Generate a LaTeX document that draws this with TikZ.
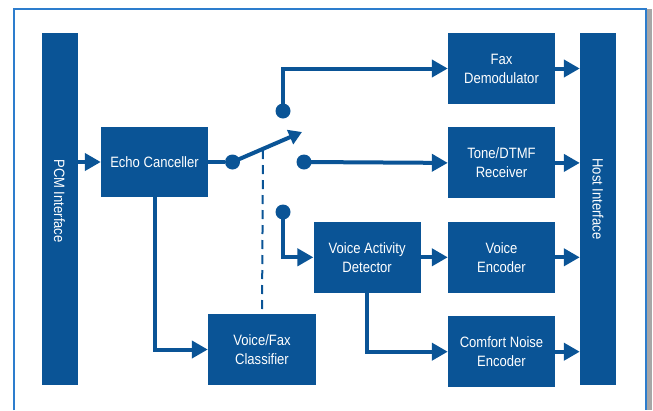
\documentclass[tikz,border=0pt]{standalone}
\usepackage{fontspec}
\setmainfont{Liberation Sans}[FakeStretch=0.87]
\usepackage{tikz}
\usetikzlibrary{arrows.meta, positioning, calc}
\usepackage{xcolor}
\definecolor{boxblue}{RGB}{10,84,150}
\definecolor{frameblue}{RGB}{45,125,205}

\begin{document}
\begin{tikzpicture}[
    x=1pt, y=-1pt,
    block/.style={
        draw=none, fill=boxblue, rectangle, align=center, text=white,
        font=\fontsize{15}{19}\selectfont, minimum width=107pt, minimum height=71pt,
        inner sep=0pt
    },
    bar/.style={
        fill=boxblue, rectangle, text=white, inner sep=0pt,
        minimum width=36pt, minimum height=352pt
    },
    line/.style={draw=boxblue, line width=4pt, -{Triangle[length=16pt, width=17pt]}},
    wire/.style={draw=boxblue, line width=4pt},
    contact/.style={circle, fill=boxblue, minimum size=15pt, inner sep=0pt}
]
    \useasboundingbox (0,0) rectangle (653,410);
    % frame
    \fill[gray!70] (647,9) rectangle (652,410);
    \draw[frameblue, line width=1.5pt] (14,410) -- (14,9) -- (646,9) -- (646,410);

    % side bars
    \node[bar] (PCM) at (59.5,209) {};
    \node[bar] (Host) at (598,209) {};
    \node[rotate=-90, text=white, font=\fontsize{15}{19}\selectfont] (PCMText) at (59.5,201) {PCM Interface};
    \node[rotate=-90, text=white, font=\fontsize{15}{19}\selectfont] (HostText) at (598,199) {Host Interface};

    % blocks
    \node[block, minimum height=70pt] (Echo) at (154.5,162) {Echo Canceller};
    \node[block] (Fax) at (501.5,68.5) {Fax\\Demodulator};
    \node[block, below=23pt of Fax] (Tone) {Tone/DTMF\\Receiver};
    \node[block, below=23pt of Tone] (VEnc) {Voice\\Encoder};
    \node[block, below=23pt of VEnc] (CNG) {Comfort Noise\\Encoder};
    \node[block, left=27pt of VEnc] (VAD) {Voice Activity\\Detector};
    \node[block, minimum width=108pt] (VFC) at (262,349.5) {Voice/Fax\\Classifier};

    % switch
    \node[contact] (Pivot) at (232.5,162) {};
    \node[contact] (Up) at (283,111) {};
    \node[contact] (Mid) at (304,162) {};
    \node[contact] (Low) at (283,212) {};
    \coordinate (Lever) at (302,132);
    \coordinate (Tap) at (263,150);

    \draw[line] (PCM.east |- Echo) -- (Echo);
    \draw[wire] (Echo) -- (Pivot);
    \draw[draw=boxblue, line width=4pt, -{Triangle[length=13pt, width=15pt]}] (Pivot.center) -- (Lever);
    \draw[line] (Up.center) |- (Fax.west);
    \draw[line] (Mid.center) -- (Tone.west);
    \draw[line] (Low.center) |- (VAD.west);
    \draw[boxblue, line width=2pt, dash pattern=on 9pt off 6pt] (Tap) -- (VFC.north);
    \draw[line] (Echo.south) |- (VFC.west);
    \draw[line] (VAD) -- (VEnc);
    \draw[line] (VAD.south) |- (CNG.west);

    \draw[line] (Fax) -- (Fax -| Host.west);
    \draw[line] (Tone) -- (Tone -| Host.west);
    \draw[line] (VEnc) -- (VEnc -| Host.west);
    \draw[line] (CNG) -- (CNG -| Host.west);
\end{tikzpicture}
\end{document}
